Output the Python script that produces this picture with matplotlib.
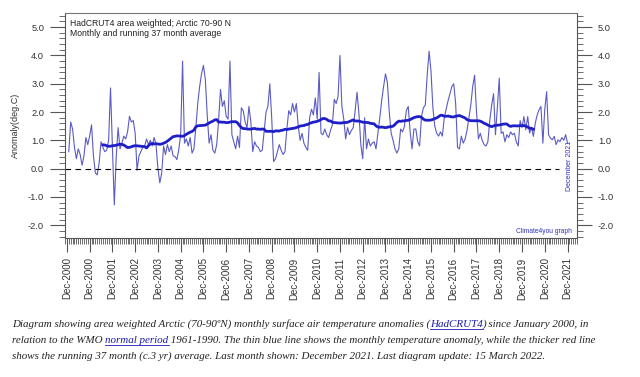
import numpy as np
import pandas as pd
import matplotlib
matplotlib.use('Agg')
import matplotlib.pyplot as plt
from matplotlib.ticker import MultipleLocator, FormatStrFormatter, FixedLocator
from matplotlib.lines import Line2D

# monthly Arctic anomaly (deg C), Jan 2000 - Dec 2021
anomaly = [
    0.60, 1.65, 1.40, 0.75, 0.35, 0.70, 0.50, 0.12, 0.45, 1.10, 0.85, 1.15,   # 2000
    1.55, 0.45, -0.15, -0.22, 0.20, 0.95, 0.75, 0.60, 0.65, 1.00, 2.85, 0.80,  # 2001
    -1.28, 0.40, 1.45, 0.70, 0.90, 1.15, 1.05, 1.30, 1.85, 1.65, 1.70, 1.25,   # 2002
    -0.05, 0.45, 0.60, 0.75, 0.80, 1.05, 0.85, 1.00, 0.80, 1.10, 0.85, 0.00,   # 2003
    -0.50, -0.15, 0.80, 0.50, 0.85, 0.60, 0.80, 0.45, 0.43, 0.32, 0.67, 1.20,  # 2004
    3.80, 0.90, 1.05, 0.80, 1.10, 0.55, 0.70, 1.45, 2.30, 2.90, 3.35, 3.65,    # 2005
    3.15, 1.90, 0.90, 1.20, 0.65, 0.55, 0.85, 1.70, 2.80, 2.20, 2.40, 1.85,    # 2006
    1.75, 3.80, 1.20, 0.95, 0.70, 1.15, 0.75, 2.15, 2.05, 1.65, 1.45, 2.20,    # 2007
    1.65, 0.60, 0.95, 0.80, 0.75, 0.60, 0.65, 1.30, 2.00, 2.20, 3.00, 1.80,    # 2008
    0.25, 0.35, 0.60, 0.85, 0.65, 0.50, 0.60, 1.40, 2.05, 1.90, 2.30, 2.00,    # 2009
    2.30, 1.50, 1.00, 1.25, 0.90, 0.75, 0.65, 1.80, 2.10, 1.90, 2.50, 1.75,    # 2010
    3.40, 1.25, 1.20, 1.40, 1.20, 1.10, 1.35, 1.55, 2.45, 2.30, 2.55, 4.00,    # 2011
    2.20, 1.75, 1.05, 1.45, 1.20, 1.35, 1.45, 2.05, 2.70, 1.95, 0.85, 0.35,    # 2012
    1.80, 0.70, 1.05, 0.80, 0.90, 0.95, 0.70, 1.25, 1.80, 2.40, 2.90, 3.35,    # 2013
    3.05, 2.00, 1.25, 1.00, 0.70, 0.55, 0.70, 1.40, 1.30, 1.50, 2.05, 2.20,    # 2014
    1.30, 0.70, 1.40, 1.40, 0.95, 0.80, 1.85, 2.15, 2.25, 3.30, 4.15, 3.45,    # 2015
    2.15, 1.50, 1.25, 1.15, 1.30, 1.15, 1.80, 2.10, 2.40, 2.65, 2.90, 3.00,    # 2016
    2.30, 0.75, 0.70, 1.15, 0.90, 1.05, 1.35, 1.80, 2.25, 2.90, 3.30, 2.00,    # 2017
    1.05, 1.25, 1.00, 0.85, 0.80, 0.95, 1.70, 2.25, 2.65, 1.20, 2.15, 3.20,    # 2018
    1.25, 1.30, 0.95, 1.20, 1.10, 1.30, 1.20, 1.25, 0.95, 0.80, 1.70, 1.45,    # 2019
    1.84, 1.37, 1.84, 1.26, 1.45, 1.14, 1.61, 1.90, 2.08, 2.20, 0.90, 2.10,    # 2020
    2.72, 1.20, 1.08, 1.02, 1.14, 0.85, 1.02, 0.95, 1.10, 1.00, 1.20, 0.90,    # 2021
]
months = np.arange(1, len(anomaly) + 1)

# December tick positions (month 0 = Dec 1999) and their labels as printed
tick_months = np.arange(0, 265, 12)
tick_labels = ['Dec-2000'] + ['Dec-%d' % y for y in range(2000, 2022)]

running = pd.Series(anomaly).rolling(37, center=True).mean()

thin_col = '#5b5bc4'
thick_col = '#1f1fc8'
axis_col = '#555555'
txt_col = '#333333'

fig = plt.figure(figsize=(6.4, 3.77), dpi=100)
ax = fig.add_axes([65 / 640, 1 - 238 / 377, 512 / 640, 225 / 377])

ax.plot(months, anomaly, color=thin_col, lw=0.8)
ax.plot(months, running, color=thick_col, lw=2)
ax.axhline(0, xmax=0.965, color='k', lw=0.8, ls=(0, (5, 4)))

ax.set_xlim(-1, 269)
ax.set_ylim(-2.45, 5.5)

ax.yaxis.set_major_locator(MultipleLocator(1))
ax.yaxis.set_minor_locator(MultipleLocator(0.2))
ax.yaxis.set_major_formatter(FormatStrFormatter('%.1f'))
ax.xaxis.set_major_locator(FixedLocator(tick_months))
ax.xaxis.set_minor_locator(MultipleLocator(1))
ax.set_xticklabels(tick_labels, rotation=90, fontsize=7, color=txt_col, family='Liberation Sans')

ax.tick_params(axis='y', which='both', left=True, right=True, labelleft=True, labelright=True,
               direction='out', colors=axis_col, labelcolor=txt_col, labelsize=6.7)
ax.tick_params(axis='y', which='major', length=11, pad=4)
ax.tick_params(axis='y', which='minor', length=4.5)
ax.tick_params(axis='x', which='major', length=10, pad=4, colors=axis_col, labelcolor=txt_col)
ax.tick_params(axis='x', which='minor', length=4, colors=axis_col)
for lab in ax.get_yticklabels():
    lab.set_family('Liberation Sans')

for s in ['left', 'right', 'bottom']:
    ax.spines[s].set_color(axis_col)
    ax.spines[s].set_linewidth(0.8)
ax.spines['top'].set_color('#777777')
ax.spines['top'].set_linestyle((0, (1, 1)))

ax.set_ylabel('Anomaly(deg.C)', fontsize=6.5, color=txt_col, family='Liberation Sans')
ax.yaxis.set_label_coords(-0.088, 0.5)

ax.text(0.01, 0.975, 'HadCRUT4 area weighted; Arctic 70-90 N\nMonthly and running 37 month average',
        transform=ax.transAxes, fontsize=6.2, va='top', ha='left', color='#222222',
        family='Liberation Sans', linespacing=1.15)
ax.text(0.99, 0.015, 'Climate4you graph', transform=ax.transAxes, fontsize=4.8,
        ha='right', va='bottom', color='#3030c0', family='Liberation Sans')
ax.text(0.986, 0.32, 'December 2021', transform=ax.transAxes, fontsize=5, rotation=90,
        ha='center', va='center', color='#3030c0', family='Liberation Sans')

# caption under the chart, with two underlined links
caption = [
    [('Diagram showing area weighted Arctic (70-90ºN) monthly surface air temperature anomalies (', False),
     ('HadCRUT4', True), (') since January 2000, in', False)],
    [('relation to the WMO ', False), ('normal period', True),
     (' 1961-1990. The thin blue line shows the monthly temperature anomaly, while the thicker red line', False)],
    [('shows the running 37 month (c.3 yr) average. Last month shown: December 2021. Last diagram update: 15 March 2022.', False)],
]
renderer = fig.canvas.get_renderer()
for i, parts in enumerate(caption):
    x = 12 / 640
    y = 1 - (327 + i * 16) / 377
    for s, link in parts:
        t = fig.text(x, y, s, fontsize=7.9, family='Liberation Serif', style='italic',
                     color='#1a1ab0' if link else '#222222', va='baseline')
        bb = t.get_window_extent(renderer)
        if link:
            fig.add_artist(Line2D([bb.x0 / 640, bb.x1 / 640], [y - 2 / 377] * 2,
                                  color='#1a1ab0', lw=0.6))
        x = bb.x1 / 640

fig.savefig('out.png', dpi=100)
